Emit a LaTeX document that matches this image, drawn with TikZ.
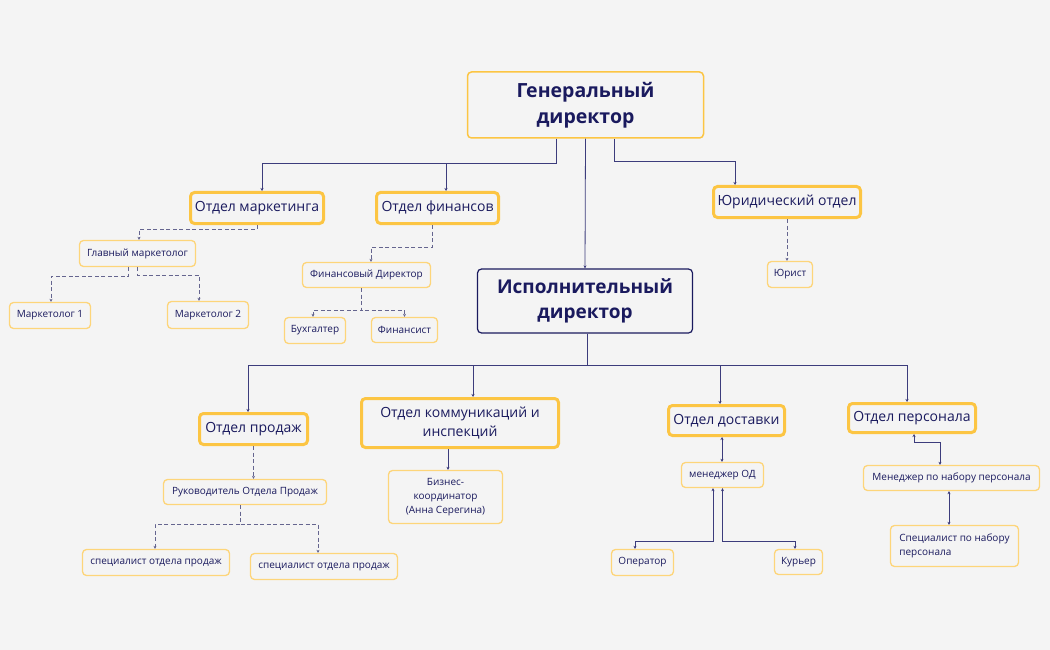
\documentclass[tikz,border=0pt]{standalone}
\usepackage{fontspec}
\setmainfont{Open Sans}
\usetikzlibrary{arrows.meta}
\definecolor{bgcol}{HTML}{F4F4F4}
\definecolor{gold}{HTML}{FCC543}
\definecolor{lightgold}{HTML}{FDD57A}
\definecolor{navy}{HTML}{1A1A5E}
\definecolor{wire}{HTML}{3C3C7C}
\definecolor{dashwire}{HTML}{65658F}

\begin{document}
\begin{tikzpicture}[x=1pt,y=-1pt]
    \tikzstyle{box}=[rectangle,rounded corners=4pt,fill=bgcol,text=navy,inner sep=2pt,align=center]
    \tikzstyle{boss}=[box,draw=gold,line width=1.5pt,font=\fontsize{19.5pt}{26pt}\selectfont\bfseries]
    \tikzstyle{exec}=[box,draw=navy,line width=1.2pt,font=\fontsize{19pt}{25pt}\selectfont\bfseries]
    \tikzstyle{dept}=[box,draw=gold,line width=3pt,font=\fontsize{14pt}{19pt}\selectfont]
    \tikzstyle{staff}=[box,draw=lightgold,line width=1.3pt,font=\fontsize{10pt}{14pt}\selectfont]
    \tikzstyle{fwd}=[draw=wire, line width=0.8pt, -{Stealth[length=3pt,width=3pt]}]
    \tikzstyle{both}=[fwd, {Stealth[length=3pt,width=3pt]}-{Stealth[length=3pt,width=3pt]}]
    \tikzstyle{dsh}=[fwd, draw=dashwire, dashed, dash pattern=on 4pt off 2.5pt]

    \useasboundingbox[fill=bgcol] (0,0) rectangle (1050,650);

    % top level
    \node[boss, minimum width=236pt, minimum height=66pt]  (gen) at (585.5,105) {Генеральный\\директор};
    \node[exec, minimum width=215pt, minimum height=64pt]  (isp) at (585,301) {Исполнительный\\директор};

    \node[dept, minimum width=133pt, minimum height=31pt]  (mark) at (257,208) {Отдел маркетинга};
    \node[dept, minimum width=122pt, minimum height=31pt]  (fin) at (437.5,208) {Отдел финансов};
    \node[dept, minimum width=147pt, minimum height=31pt]  (jur) at (787,202) {Юридический отдел};

    \node[staff, minimum width=116pt, minimum height=26pt]  (gm) at (137.5,253.5) {Главный маркетолог};
    \node[staff, minimum width=81pt, minimum height=26pt]  (m1) at (50,315.5) {Маркетолог 1};
    \node[staff, minimum width=81pt, minimum height=27pt]  (m2) at (208,315) {Маркетолог 2};
    \node[staff, minimum width=128pt, minimum height=25pt]  (fd) at (366.5,275) {Финансовый Директор};
    \node[staff, minimum width=61pt, minimum height=26pt]  (buh) at (315,330.5) {Бухгалтер};
    \node[staff, minimum width=66pt, minimum height=25pt]  (fnc) at (404.5,330) {Финансист};
    \node[staff, minimum width=45pt, minimum height=26pt]  (jurist) at (790,274.5) {Юрист};

    % executive branch
    \node[dept, minimum width=108pt, minimum height=31pt]  (sales) at (253.5,429) {Отдел продаж};
    \node[dept, minimum width=197pt, minimum height=49pt]  (comm) at (460,423) {Отдел коммуникаций и\\инспекций};
    \node[dept, minimum width=116pt, minimum height=30pt]  (dost) at (726.5,420.5) {Отдел доставки};
    \node[dept, minimum width=127pt, minimum height=29pt]  (pers) at (912,418) {Отдел персонала};

    \node[staff, minimum width=163pt, minimum height=25pt]  (ruk) at (245,492) {Руководитель Отдела Продаж};
    \node[staff, minimum width=114pt, minimum height=53pt]  (biz) at (445.5,497) {Бизнес-\\координатор\\(Анна Серегина)};
    \node[staff, minimum width=147pt, minimum height=26pt]  (sp1) at (156,562.5) {специалист отдела продаж};
    \node[staff, minimum width=147pt, minimum height=26pt]  (sp2) at (324,566.5) {специалист отдела продаж};
    \node[staff, minimum width=82pt, minimum height=25pt]  (mgrod) at (722.5,475) {менеджер ОД};
    \node[staff, minimum width=62pt, minimum height=26pt]  (oper) at (642.5,562.5) {Оператор};
    \node[staff, minimum width=48pt, minimum height=25pt]  (kur) at (798.5,562) {Курьер};
    \node[staff, minimum width=176pt, minimum height=25pt]  (mnp) at (951.5,478) {Менеджер по набору персонала};
    \node[staff, minimum width=128pt, minimum height=41pt, align=left]  (snp) at (954.5,546) {Специалист по набору\\персонала};

   \draw [fwd] ([xshift=-29pt]gen.south) -- ++(0,24.5) -| ([xshift=5pt]mark.north);
   \draw [fwd] ([xshift=-29pt]gen.south) -- ++(0,24.5) -| ([xshift=8.5pt]fin.north);
   \draw [fwd] (gen.south) -- (isp.north);
   \draw [fwd] ([xshift=29pt]gen.south) -- ++(0,22.5) -| ([xshift=-52pt]jur.north);

   \draw [dsh] (mark.south) -- ++(0,4) -| ([xshift=1.5pt]gm.north);
   \draw [dsh] ([xshift=-9pt]gm.south) -- ++(0,9) -| ([xshift=1pt]m1.north);
   \draw [dsh] (gm.south) -- ++(0,8) -| ([xshift=-9pt]m2.north);
   \draw [dsh] ([xshift=-5.5pt]fin.south) -- ++(0,22) -| ([xshift=4.5pt]fd.north);
   \draw [dsh] ([xshift=-5.5pt]fd.south) -- ++(0,22) -| ([xshift=-2pt]buh.north);
   \draw [dsh] ([xshift=-5.5pt]fd.south) -- ++(0,22) -| (fnc.north);
   \draw [dsh] (jur.south) -- ([xshift=-3pt]jurist.north);

   \draw [fwd] ([xshift=2pt]isp.south) -- ++(0,31.5) -| ([xshift=-5.5pt]sales.north);
   \draw [fwd] ([xshift=2pt]isp.south) -- ++(0,31.5) -| ([xshift=13pt]comm.north);
   \draw [fwd] ([xshift=2pt]isp.south) -- ++(0,31.5) -| ([xshift=-6.5pt]dost.north);
   \draw [fwd] ([xshift=2pt]isp.south) -- ++(0,31.5) -| ([xshift=-5pt]pers.north);

   \draw [dsh] (sales.south) -- (ruk.north -| sales.south);
   \draw [dsh] ([xshift=-5pt]ruk.south) -- ++(0,19) -| ([xshift=-1pt]sp1.north);
   \draw [dsh] ([xshift=-5pt]ruk.south) -- ++(0,19) -| ([xshift=-6pt]sp2.north);
   \draw [fwd] ([xshift=-12pt]comm.south) -- ([xshift=2.5pt]biz.north);
   \draw [both] ([xshift=-4.5pt]dost.south) -- ([xshift=-0.5pt]mgrod.north);
   \draw [both] ([xshift=-9.5pt]mgrod.south) -- ++(0,53) -| ([xshift=-7.5pt]oper.north);
   \draw [both] (mgrod.south) -- ++(0,53) -| ([xshift=-3.5pt]kur.north);
   \draw [both] ([xshift=2pt]pers.south) -- ++(0,8) -| ([xshift=-11.5pt]mnp.north);
   \draw [both] ([xshift=-2.5pt]mnp.south) -- ([xshift=-5.5pt]snp.north);

\end{tikzpicture}
\end{document}
